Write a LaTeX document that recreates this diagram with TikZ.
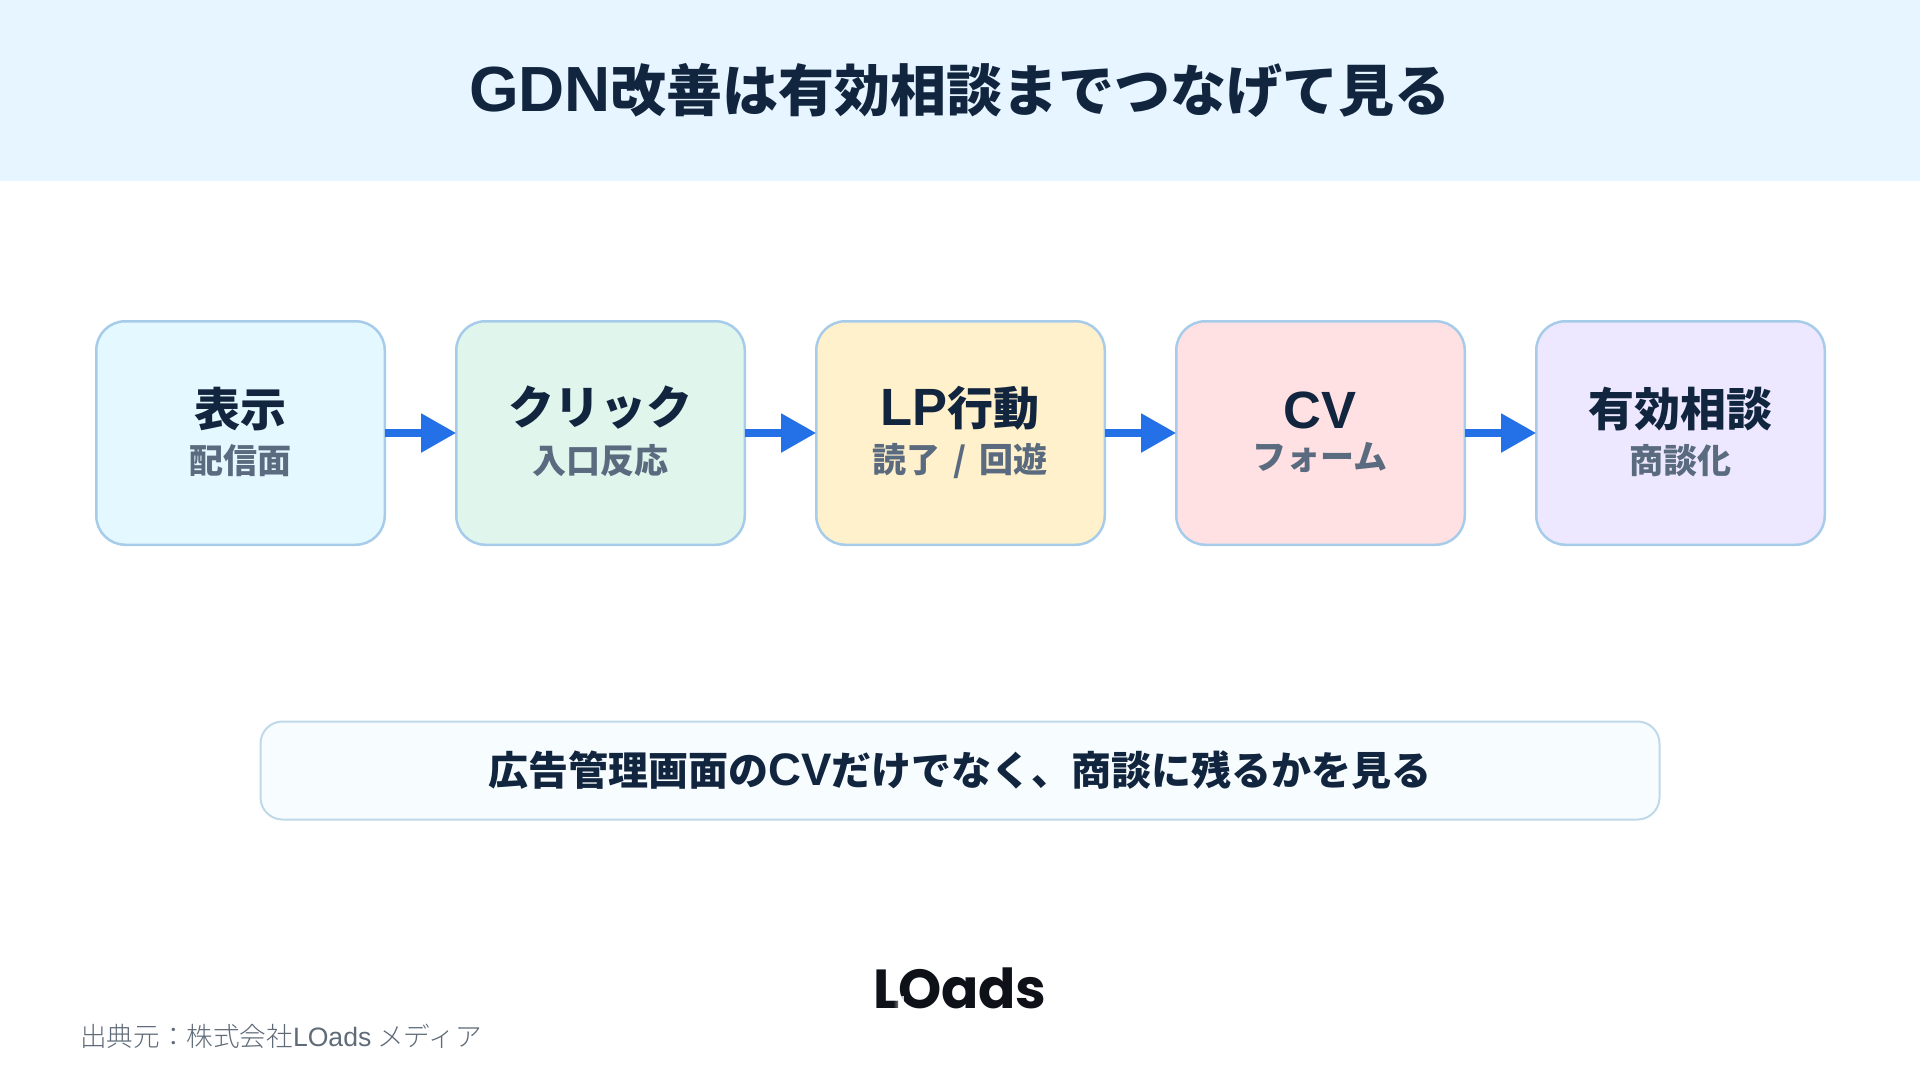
\documentclass[tikz,border=0pt]{standalone}
\usepackage{fontspec}
\setmainfont{Noto Sans CJK JP}
\newfontfamily\logofont{Poppins}
\newfontfamily\latfont[Scale=1.14]{Liberation Sans}
\newfontfamily\srcfont{Noto Sans CJK JP Light}
\newfontfamily\srclat[Scale=1.0]{Liberation Sans}
\newcommand{\lat}[1]{{\latfont #1}}
\usetikzlibrary{arrows.meta,fadings}
\definecolor{headbg}{HTML}{E6F5FF}
\definecolor{ink}{HTML}{12253F}
\definecolor{subink}{HTML}{5A6B7F}
\definecolor{edge}{HTML}{A6CCEA}
\definecolor{flow}{HTML}{2470E6}
\definecolor{noteedge}{HTML}{C0D9E8}
\definecolor{notebg}{HTML}{F7FCFF}
\definecolor{srcink}{HTML}{5F6B78}
\definecolor{logoink}{HTML}{0E1218}
\definecolor{fa}{HTML}{E4F8FF}
\definecolor{fb}{HTML}{E0F6EC}
\definecolor{fc}{HTML}{FFF1CC}
\definecolor{fd}{HTML}{FFE0E3}
\definecolor{fe}{HTML}{EDE8FF}
\newcommand{\fs}[1]{\fontsize{#1}{#1}\selectfont}
\tikzfading[name=footfade,left color=transparent!100,right color=transparent!10]
\tikzset{
  stagebox/.style={draw=edge,line width=2.5pt,rounded corners=29pt,minimum width=288.5pt,minimum height=223.5pt,inner sep=0pt},
  mainlab/.style={text=ink,font=\fs{46}\bfseries,inner sep=0pt},
  sublab/.style={text=subink,font=\fs{34}\bfseries,inner sep=0pt},
  flowarrow/.style={draw=flow,line width=8pt,-{Triangle[length=35pt,width=37pt]},shorten >=-1.2pt,shorten <=-1.2pt}
}
\begin{document}
\begin{tikzpicture}[x=1pt,y=-1pt]
\useasboundingbox (0,0) rectangle (1920,1080);
\fill[headbg] (0,0) rectangle (1920,181);
\node[text=ink,font=\fs{56}\bfseries,inner sep=0pt] (title) at (960,90) {\lat{GDN}改善は有効相談までつなげて見る};
\node[stagebox,fill=fa] (b1) at (240.5,433) {};
\node[stagebox,fill=fb] (b2) at (600.5,433) {};
\node[stagebox,fill=fc] (b3) at (960.5,433) {};
\node[stagebox,fill=fd] (b4) at (1320.5,433) {};
\node[stagebox,fill=fe] (b5) at (1680.5,433) {};
\node[mainlab] (m1) at (240,409) {表示};
\node[sublab] (s1) at (240,461) {配信面};
\node[mainlab] (m2) at (600,408) {クリック};
\node[sublab] (s2) at (600,461) {入口反応};
\node[mainlab] (m3) at (960,408) {\lat{LP}行動};
\node[sublab] (s3) at (960,460.5) {読了\hspace{0.38em}/\hspace{0.38em}回遊};
\node[mainlab] (m4) at (1320,410) {\lat{CV}};
\node[sublab] (s4) at (1320,457) {フォーム};
\node[mainlab] (m5) at (1680,409) {有効相談};
\node[sublab] (s5) at (1680,461) {商談化};
\draw[flowarrow] (b1) -- (b2);
\draw[flowarrow] (b2) -- (b3);
\draw[flowarrow] (b3) -- (b4);
\draw[flowarrow] (b4) -- (b5);
\node[draw=noteedge,fill=notebg,line width=2pt,rounded corners=22pt,minimum width=1399pt,minimum height=98pt,inner sep=0pt] (note) at (960,770.5) {};
\node[text=ink,font=\fs{40}\bfseries,inner sep=0pt] (notetext) at (960,770) {広告管理画面の\lat{CV}だけでなく、商談に残るかを見る};
\node[text=logoink,font=\logofont\fs{55}\bfseries,inner sep=0pt] (logo) at (960,988) {L\kern-0.03em Oads};
\fill[white,path fading=footfade] (893,996) rectangle (904,1010);
\node[text=srcink,font=\srcfont\fs{26.6},anchor=west,inner sep=0pt] (src) at (80,1036) {出典元：株式会社{\srclat LOads} メディア};
\end{tikzpicture}
\end{document}
